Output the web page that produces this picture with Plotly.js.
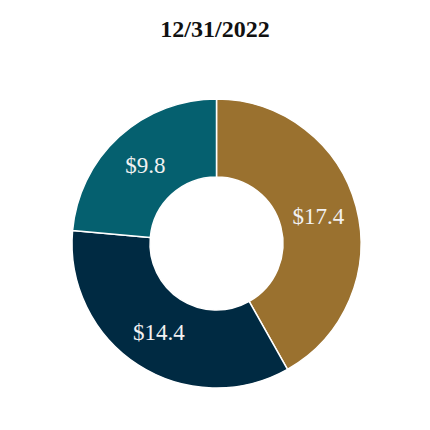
<!DOCTYPE html>
<html>
<head>
<meta charset="utf-8">
<script src="https://cdn.plot.ly/plotly-3.0.1.min.js"></script>
<style>html,body{margin:0;padding:0;background:#fff;}#chart{width:430px;height:430px;}</style>
</head>
<body>
<div id="chart"></div>
<script>
const categories = ["A", "B", "C"];
const values = [17.4, 14.4, 9.8];
const colors = ["#9A712F", "#002A42", "#05606F"];
const titleText = "12/31/2022";

const trace = {
  type: "pie",
  labels: categories,
  values: values,
  text: values.map(v => "$" + v.toFixed(1)),
  textinfo: "text",
  hoverinfo: "none",
  hole: 0.46,
  sort: false,
  direction: "clockwise",
  rotation: 0,
  textposition: "inside",
  insidetextorientation: "horizontal",
  marker: { colors: colors, line: { color: "#ffffff", width: 1.5 } },
  textfont: { family: "Liberation Serif, Times New Roman, serif", size: 23, color: "#F2F2F2" },
  showlegend: false
};

const layout = {
  width: 430,
  height: 430,
  margin: { l: 71, r: 68, t: 99, b: 42 },
  paper_bgcolor: "#ffffff",
  title: {
    text: "<b>" + titleText + "</b>",
    x: 0.5, xanchor: "center",
    y: 1 - 29 / 430, yanchor: "middle", yref: "container",
    font: { family: "Liberation Serif, Times New Roman, serif", size: 24, color: "#111111" }
  },
  showlegend: false
};

Plotly.newPlot("chart", [trace], layout, { staticPlot: true, displayModeBar: false });
</script>
</body>
</html>
